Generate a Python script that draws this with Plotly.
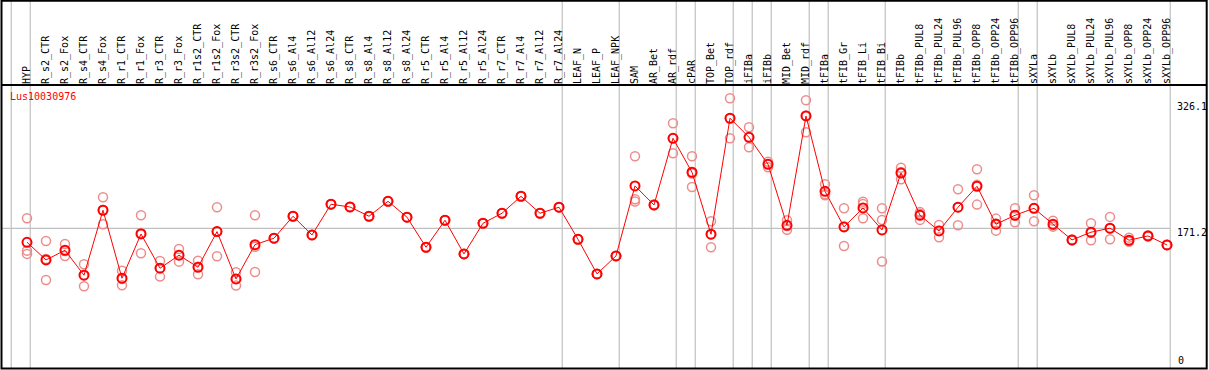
import plotly.graph_objects as go

categories = ["HYP", "R_s2_CTR", "R_s2_Fox", "R_s4_CTR", "R_s4_Fox", "R_r1_CTR", "R_r1_Fox",
              "R_r3_CTR", "R_r3_Fox", "R_r1s2_CTR", "R_r1s2_Fox", "R_r3s2_CTR", "R_r3s2_Fox",
              "R_s6_CTR", "R_s6_Al4", "R_s6_Al12", "R_s6_Al24", "R_s8_CTR", "R_s8_Al4", "R_s8_Al12",
              "R_s8_Al24", "R_r5_CTR", "R_r5_Al4", "R_r5_Al12", "R_r5_Al24", "R_r7_CTR", "R_r7_Al4",
              "R_r7_Al12", "R_r7_Al24", "LEAF_N", "LEAF_P", "LEAF_NPK", "SAM", "AR_Bet", "AR_rdf",
              "cPAR", "TOP_Bet", "TOP_rdf", "iFIBa", "iFIBb", "MID_Bet", "MID_rdf", "tFIBa",
              "tFIB_Gr", "tFIB_Li", "tFIB_Bi", "tFIBb", "tFIBb_PUL8", "tFIBb_PUL24", "tFIBb_PUL96",
              "tFIBb_OPP8", "tFIBb_OPP24", "tFIBb_OPP96", "sXYLa", "sXYLb", "sXYLb_PUL8",
              "sXYLb_PUL24", "sXYLb_PUL96", "sXYLb_OPP8", "sXYLb_OPP24", "sXYLb_OPP96"]

means = [154.0, 132.3, 144.2, 113.5, 193.4, 109.8, 164.2, 122.1, 138.1, 123.3, 167.1, 108.9, 151.1,
         159.0, 186.0, 163.0, 200.8, 197.4, 186.0, 204.4, 184.8, 147.9, 181.1, 139.7, 177.4,
         189.7, 210.6, 189.7, 197.1, 157.7, 115.1, 137.2, 223.3, 199.9, 281.9, 240.1, 163.9,
         306.5, 283.1, 249.9, 174.9, 309.3, 216.7, 172.9, 196.2, 169.2, 239.2, 187.2, 167.9,
         197.1, 222.9, 176.2, 187.2, 195.8, 176.2, 156.9, 166.4, 171.3, 156.5, 161.8, 150.7]

rep1 = [183.5, 155.6, 151.9, 127.0, 209.4, 119.1, 187.2, 131.1, 145.8, 131.4, 197.1, 117.2, 187.2,
        159.0, 186.0, 163.0, 200.8, 197.4, 186.0, 204.4, 184.8, 147.9, 181.1, 139.7, 177.4,
        189.7, 210.6, 189.7, 197.1, 157.7, 115.1, 137.2, 259.8, 200.5, 300.3, 259.8, 179.9,
        331.1, 295.4, 253.1, 181.1, 328.6, 225.3, 195.8, 203.9, 195.8, 245.7, 191.1, 175.3,
        219.2, 243.8, 183.1, 195.8, 211.8, 180.6, 157.5, 177.4, 185.2, 159.7, 162.5, 151.0]

rep2 = [143.7, 107.7, 137.2, 100.0, 176.2, 101.2, 140.5, 111.8, 130.2, 114.7, 136.8, 100.7, 117.5,
        159.0, 186.0, 163.0, 200.8, 197.4, 186.0, 204.4, 184.8, 147.9, 181.1, 139.7, 177.4,
        189.7, 210.6, 189.7, 197.1, 157.7, 115.1, 137.2, 204.0, 199.5, 263.5, 222.0, 147.9,
        281.9, 270.8, 246.2, 169.5, 289.3, 213.1, 149.5, 183.5, 130.4, 231.5, 181.5, 160.2,
        174.9, 200.3, 168.3, 178.6, 179.9, 173.2, 156.3, 156.5, 157.7, 155.0, 161.0, 150.5]

rep3 = [139.7, 133.5, 143.3, 113.8, 193.8, 108.9, 165.5, 122.4, 138.4, 123.8, 167.4, 108.8, 148.6,
        159.0, 186.0, 163.0, 200.8, 197.4, 186.0, 204.4, 184.8, 147.9, 181.1, 139.7, 177.4,
        189.7, 210.6, 189.7, 197.1, 157.7, 115.1, 137.2, 206.9, 199.9, 281.9, 238.5, 163.9,
        306.5, 283.1, 250.4, 174.1, 310.0, 211.8, 173.4, 201.2, 181.5, 240.4, 189.0, 168.2,
        197.2, 224.6, 177.2, 187.2, 195.7, 174.8, 156.9, 165.3, 171.0, 154.8, 161.9, 150.7]

# group separators: drawn just after these category indices (-1 = left edge)
separators_after = [-1, 0, 28, 31, 34, 35, 37, 38, 39, 41, 42, 45, 52, 53, 60]

gene_label = "Lus10030976"
right_labels = [326.1, 171.2, 0]
ref_line = 171.2

FONT = "DejaVu Sans Mono"
W, H = 1209, 370
ML, MR, MT, MB = 2, 39, 85, 2
PW, PH = W - ML - MR, H - MT - MB
XR = [-1.3158, 60.158]
YR = [-0.6, 347.4]

fig = go.Figure()

for reps in (rep1, rep2, rep3):
    fig.add_trace(go.Scatter(
        x=categories, y=reps, mode="markers",
        marker=dict(symbol="circle-open", size=9, color="rgb(238,140,140)",
                    line=dict(width=1.5, color="rgb(238,140,140)")),
        hoverinfo="skip", showlegend=False, cliponaxis=False))

fig.add_trace(go.Scatter(
    x=categories, y=means, mode="lines+markers",
    line=dict(color="#ff0000", width=1),
    marker=dict(symbol="circle-open", size=9, color="#ff0000",
                line=dict(width=2, color="#ff0000")),
    showlegend=False, cliponaxis=False))

shapes = []
for s in separators_after:
    xp = (s + 0.17 - XR[0]) / (XR[1] - XR[0])
    shapes.append(dict(type="line", xref="paper", yref="paper", x0=xp, x1=xp,
                       y0=-0.002, y1=(H - MB - 0.5) / PH, line=dict(color="#c0c0c0", width=1.2),
                       layer="below"))
shapes.append(dict(type="line", xref="paper", yref="y", x0=0, x1=1, y0=ref_line, y1=ref_line,
                   line=dict(color="#c0c0c0", width=1.2), layer="below"))
# frame and header separator
fx0 = (1.5 - ML) / PW
fx1 = (1206.7 - ML) / PW
fy0 = (H - MB - 368.5) / PH
fy1 = (H - MB - 0.8) / PH
shapes.append(dict(type="rect", xref="paper", yref="paper", x0=fx0, x1=fx1, y0=fy0, y1=fy1,
                   line=dict(color="black", width=2), fillcolor="rgba(0,0,0,0)"))
shapes.append(dict(type="line", xref="paper", yref="paper", x0=fx0, x1=fx1, y0=1, y1=1,
                   line=dict(color="black", width=2)))

annotations = [dict(text=gene_label, xref="paper", yref="paper", x=(8 - ML) / PW, y=1,
                    xanchor="left", yanchor="top", yshift=-4, showarrow=False,
                    font=dict(family=FONT, size=10, color="#ff0000"))]
for v in right_labels:
    if v == 0:
        annotations.append(dict(text=str(v), xref="paper", yref="y", x=1, y=v, xanchor="left",
                                yanchor="bottom", xshift=6, yshift=0, showarrow=False,
                                font=dict(family=FONT, size=10, color="black")))
    else:
        annotations.append(dict(text=str(v), xref="paper", yref="y", x=1, y=v, xanchor="left",
                                yanchor="top", xshift=5, yshift=3, showarrow=False,
                                font=dict(family=FONT, size=10, color="black")))

fig.update_layout(
    width=W, height=H,
    margin=dict(l=ML, r=MR, t=MT, b=MB, pad=0),
    paper_bgcolor="white", plot_bgcolor="white",
    xaxis=dict(type="category", categoryorder="array", categoryarray=categories,
               range=XR, side="top", tickangle=-90, showgrid=False, zeroline=False,
               showline=False, ticks="", ticklen=0, automargin=False,
               tickfont=dict(family=FONT, size=10, color="black")),
    yaxis=dict(range=YR, showgrid=False, zeroline=False, showticklabels=False, showline=False,
               ticks="", automargin=False),
    shapes=shapes, annotations=annotations,
    hovermode=False,
)

fig.write_html("out.html", config={"displayModeBar": False},
               post_script="document.body.style.margin='0px';document.body.style.overflow='hidden';")
